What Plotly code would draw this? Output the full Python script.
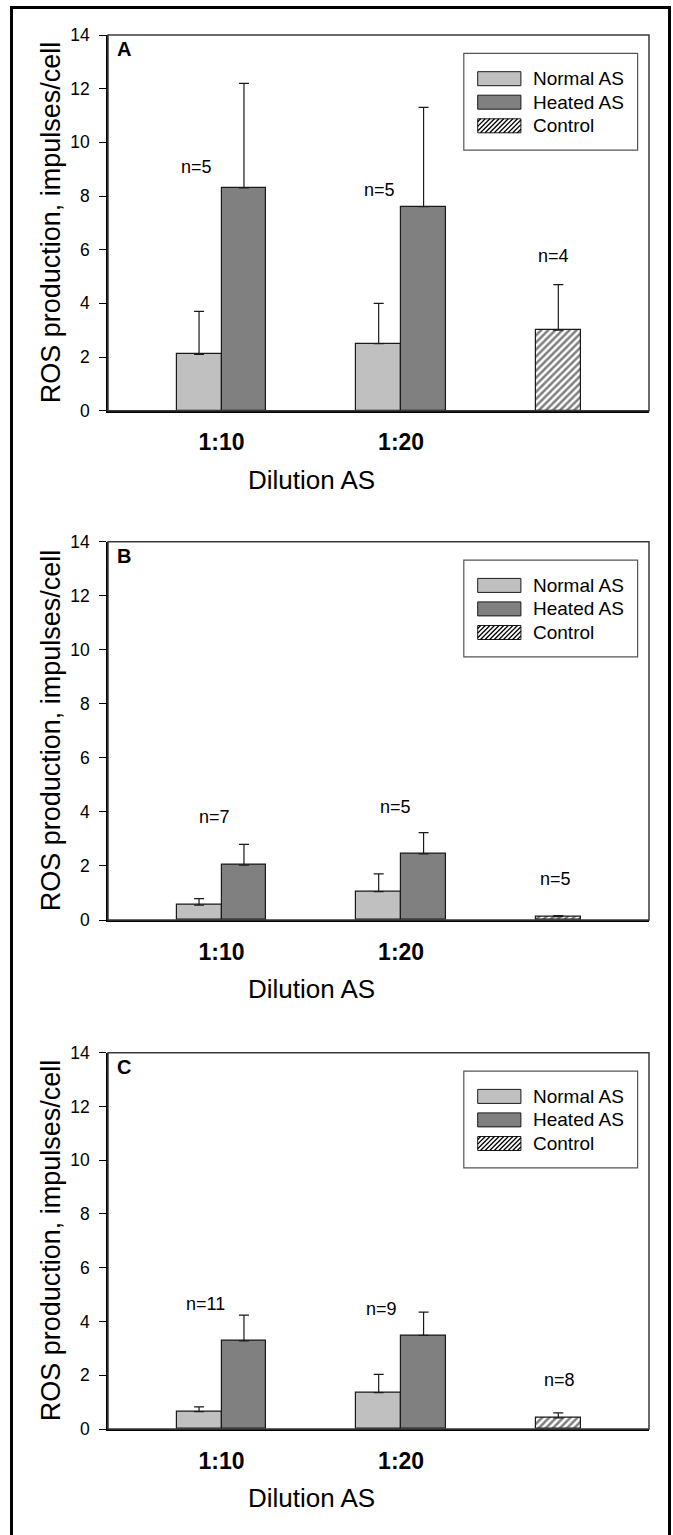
import plotly.graph_objects as go

# ---------------- data ----------------
categories = ["1:10", "1:20"]
cat_x = [1, 2]
control_x = [3]
series_names = ["Normal AS", "Heated AS", "Control"]
panel_letters = ["A", "B", "C"]

normal_A = [2.1, 2.5]
normal_err_A = [1.6, 1.5]
heated_A = [8.3, 7.6]
heated_err_A = [3.9, 3.7]
control_A = [3.0]
control_err_A = [1.7]
n_A = ["n=5", "n=5", "n=4"]

normal_B = [0.55, 1.05]
normal_err_B = [0.24, 0.66]
heated_B = [2.03, 2.45]
heated_err_B = [0.77, 0.78]
control_B = [0.12]
control_err_B = [0.04]
n_B = ["n=7", "n=5", "n=5"]

normal_C = [0.65, 1.35]
normal_err_C = [0.17, 0.68]
heated_C = [3.28, 3.48]
heated_err_C = [0.96, 0.87]
control_C = [0.41]
control_err_C = [0.19]
n_C = ["n=11", "n=9", "n=8"]

y_ticks = [0, 2, 4, 6, 8, 10, 12, 14]

# ---------------- layout constants ----------------
W, H = 673, 1535
ML, MR, MT, MB = 108, 24, 35, 106
PW = W - ML - MR
PH = H - MT - MB
FONT = "Arial, Liberation Sans, sans-serif"

# n-label positions (data units) per panel
n_pos = {
    "A": [(0.86, 9.08), (1.88, 8.24), (2.85, 5.75)],
    "B": [(0.96, 3.80), (1.97, 4.17), (2.86, 1.52)],
    "C": [(0.91, 4.66), (1.89, 4.45), (2.88, 1.84)],
}

panel_top_px = [35.0, 541.7, 1052.7]
panel_bot_px = [410.7, 920.0, 1429.0]

def py(Y):
    return (H - MB - Y) / PH

def px(X):
    return (X - ML) / PW

panels = [
    ("A", normal_A, normal_err_A, heated_A, heated_err_A, control_A, control_err_A, n_A),
    ("B", normal_B, normal_err_B, heated_B, heated_err_B, control_B, control_err_B, n_B),
    ("C", normal_C, normal_err_C, heated_C, heated_err_C, control_C, control_err_C, n_C),
]

C_NORMAL = "#c0c0c0"
C_HEATED = "#808080"
C_EDGE = "#1a1a1a"
BAR_W = 0.25

fig = go.Figure()
shapes = []
annotations = []

for i, (letter, nv, ne, hv, he, cv, ce, nl) in enumerate(panels):
    sfx = "" if i == 0 else str(i + 1)
    xa, ya = "x" + sfx, "y" + sfx
    err_style = dict(type="data", symmetric=False, color=C_EDGE, thickness=1.2, width=5)
    fig.add_trace(go.Bar(
        x=cat_x, y=nv, offset=-BAR_W, width=BAR_W, name=series_names[0],
        marker=dict(color=C_NORMAL, line=dict(color=C_EDGE, width=1.2)),
        error_y=dict(array=ne, arrayminus=[0] * len(ne), **err_style),
        xaxis=xa, yaxis=ya, showlegend=False))
    fig.add_trace(go.Bar(
        x=cat_x, y=hv, offset=0, width=BAR_W, name=series_names[1],
        marker=dict(color=C_HEATED, line=dict(color=C_EDGE, width=1.2)),
        error_y=dict(array=he, arrayminus=[0] * len(he), **err_style),
        xaxis=xa, yaxis=ya, showlegend=False))
    fig.add_trace(go.Bar(
        x=control_x, y=cv, offset=-BAR_W, width=BAR_W, name=series_names[2],
        marker=dict(color="white", line=dict(color=C_EDGE, width=1.2),
                    pattern=dict(shape="/", fgcolor="black", bgcolor="white",
                                 size=5, solidity=0.5)),
        error_y=dict(array=ce, arrayminus=[0] * len(ce), **err_style),
        xaxis=xa, yaxis=ya, showlegend=False))

    top, bot = panel_top_px[i], panel_bot_px[i]
    dom = [py(bot), py(top)]
    fig.update_layout(**{
        "xaxis" + sfx: dict(
            domain=[0, 1], anchor=ya, range=[0.368, 3.38],
            tickvals=cat_x, ticktext=["<b>%s</b>" % c for c in categories],
            tickfont=dict(size=23, color="black", family=FONT),
            ticks="", showline=True, linecolor="black", linewidth=2,
            showgrid=False, zeroline=False, ticklabelstandoff=10),
        "yaxis" + sfx: dict(
            domain=dom, anchor=xa, range=[0, 14], tickvals=y_ticks,
            tickfont=dict(size=17.5, color="black", family=FONT),
            ticks="outside", ticklen=7, tickwidth=1.3, tickcolor="black",
            showline=True, linecolor="black", linewidth=1.5,
            showgrid=False, zeroline=False, ticklabelstandoff=6),
    })

    # plot frame (top and right)
    shapes.append(dict(type="rect", xref=xa + " domain", yref=ya + " domain",
                       x0=0, x1=1, y0=0, y1=1, line=dict(color="#3a3a3a", width=1.5),
                       layer="above"))

    # panel letter
    annotations.append(dict(text="<b>%s</b>" % letter, xref=xa + " domain", yref=ya + " domain",
                            x=0.0124, y=1, xanchor="left", yanchor="top", yshift=-1,
                            showarrow=False, font=dict(size=20, color="black", family=FONT)))
    # n labels
    for (lx, ly), t in zip(n_pos[letter], nl):
        annotations.append(dict(text=t, xref=xa, yref=ya, x=lx, y=ly, xanchor="center",
                                yanchor="middle", showarrow=False,
                                font=dict(size=18, color="black", family=FONT)))
    # y title
    annotations.append(dict(text="ROS production, impulses/cell", xref="paper", yref=ya + " domain",
                            x=px(50.5), y=0.5, xanchor="center", yanchor="middle",
                            textangle=-90, showarrow=False,
                            font=dict(size=27, color="black", family=FONT)))
    # x title
    annotations.append(dict(text="Dilution AS", xref=xa, yref=ya + " domain",
                            x=1.5, y=0, xanchor="center", yanchor="middle", yshift=-69,
                            showarrow=False, font=dict(size=26, color="black", family=FONT)))

    # legend (manual)
    off = top - 35.0
    lx0, lx1 = 463.8, 637.6
    ly0, ly1 = 53.4 + off, 150.2 + off
    shapes.append(dict(type="rect", xref="paper", yref="paper",
                       x0=px(lx0), x1=px(lx1), y0=py(ly1), y1=py(ly0),
                       line=dict(color="#555555", width=1.2), fillcolor="white", layer="above"))
    rows = [71.7 + off, 95.2 + off, 118.8 + off]
    sw_x0, sw_x1, sw_h = 477.7, 520.9, 14.0
    fills = [C_NORMAL, C_HEATED, "white"]
    for r, (yy, fc, name) in enumerate(zip(rows, fills, series_names)):
        shapes.append(dict(type="rect", xref="paper", yref="paper",
                           x0=px(sw_x0), x1=px(sw_x1), y0=py(yy + sw_h), y1=py(yy),
                           line=dict(color=C_EDGE, width=1), fillcolor=fc, layer="above"))
        if r == 2:
            segs = []
            x0, x1, y0, y1 = sw_x0, sw_x1, yy, yy + sw_h
            c = x0 + y0 + 3
            while c < x1 + y1:
                a = max(x0, c - y1)
                b = min(x1, c - y0)
                if b > a:
                    segs.append("M%.5f,%.5f L%.5f,%.5f" % (px(a), py(c - a), px(b), py(c - b)))
                c += 4.6
            shapes.append(dict(type="path", xref="paper", yref="paper", path=" ".join(segs),
                               line=dict(color="black", width=1.3), layer="above"))
        annotations.append(dict(text=name, xref="paper", yref="paper",
                                x=px(530.5), y=py(yy + sw_h / 2), xanchor="left", yanchor="middle",
                                showarrow=False, font=dict(size=19, color="black", family=FONT)))

# outer border
shapes.append(dict(type="rect", xref="paper", yref="paper",
                   x0=px(11.5), x1=px(669.5), y0=py(1550), y1=py(7.5),
                   line=dict(color="black", width=3), layer="above"))

fig.update_layout(
    width=W, height=H, margin=dict(l=ML, r=MR, t=MT, b=MB),
    paper_bgcolor="white", plot_bgcolor="white",
    showlegend=False, bargap=0, barmode="overlay",
    font=dict(family=FONT, color="black"),
    shapes=shapes, annotations=annotations,
)

fig.write_html("out.html", config={"displayModeBar": False},
               post_script="document.body.style.margin='0';document.body.style.overflow='hidden';")
